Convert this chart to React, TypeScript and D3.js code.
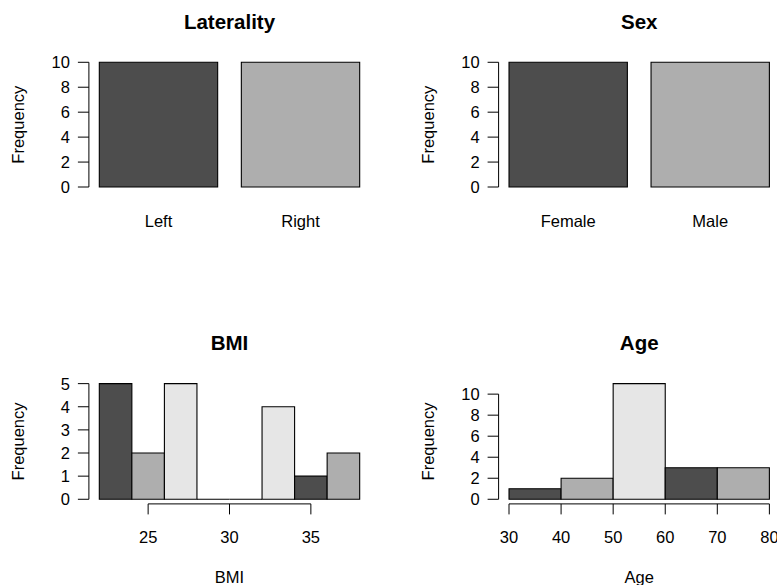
import React from "react";
import * as d3 from "d3";

const width = 777;
const height = 585;
const font = "'Liberation Sans', Arial, Helvetica, sans-serif";

// data
const lateralityCats = ["Left", "Right"];
const lateralityCounts = [10, 10];
const sexCats = ["Female", "Male"];
const sexCounts = [10, 10];
const bmiBreaks = [22, 24, 26, 28, 30, 32, 34, 36, 38];
const bmiCounts = [5, 2, 5, 0, 0, 4, 1, 2];
const ageBreaks = [30, 40, 50, 60, 70, 80];
const ageCounts = [1, 2, 11, 3, 3];
const barTicksY = [0, 2, 4, 6, 8, 10];
const bmiTicksY = [0, 1, 2, 3, 4, 5];
const ageTicksY = [0, 2, 4, 6, 8, 10];
const bmiTicksX = [25, 30, 35];
const ageTicksX = [30, 40, 50, 60, 70, 80];

const grays = ["#4D4D4D", "#AEAEAE", "#E6E6E6"];

// plot regions (like R's plt)
const colX = [88.9, 498.6];
const regionW = 281.2;
const topRow = [192, 57.3];
const bottomRow = [503.9, 379];

// extend a domain by 4%, like R's xaxs = "r"
const ext = (lo: number, hi: number) => {
  const d = (hi - lo) * 0.04;
  return [lo - d, hi + d];
};

function barPath(x0: number, x1: number, y0: number, y1: number) {
  return `M${x0},${y0}H${x1}V${y1}H${x0}Z`;
}

function YAxis({ x, y, ticks }: { x: number; y: d3.ScaleLinear<number, number>; ticks: number[] }) {
  const y0 = y(ticks[0]);
  const y1 = y(ticks[ticks.length - 1]);
  return (
    <g>
      <line x1={x} x2={x} y1={y0} y2={y1} stroke="#000" strokeWidth={1} />
      {ticks.map(t => (
        <g key={t}>
          <line x1={x - 11} x2={x} y1={y(t)} y2={y(t)} stroke="#000" strokeWidth={1} />
          <text x={x - 19} y={y(t)} dy="0.36em" textAnchor="end" fontSize={16.5} fontFamily={font}>{t}</text>
        </g>
      ))}
    </g>
  );
}

function XAxis({ y, x, ticks }: { y: number; x: d3.ScaleLinear<number, number>; ticks: number[] }) {
  return (
    <g>
      <line x1={x(ticks[0])} x2={x(ticks[ticks.length - 1])} y1={y} y2={y} stroke="#000" strokeWidth={1} />
      {ticks.map(t => (
        <g key={t}>
          <line x1={x(t)} x2={x(t)} y1={y} y2={y + 10.5} stroke="#000" strokeWidth={1} />
          <text x={x(t)} y={y + 38.7} textAnchor="middle" fontSize={16.5} fontFamily={font}>{t}</text>
        </g>
      ))}
    </g>
  );
}

function Titles({ x0, row, title, xlab }: { x0: number; row: number[]; title: string; xlab?: string }) {
  const cx = x0 + regionW / 2;
  const cy = (row[0] + row[1]) / 2;
  const lx = x0 - 64.5;
  return (
    <g fontFamily={font}>
      <text x={cx} y={row[1] - 28.8} textAnchor="middle" fontSize={20.5} fontWeight="bold">{title}</text>
      <text transform={`translate(${lx},${cy}) rotate(-90)`} textAnchor="middle" fontSize={16.5}>Frequency</text>
      {xlab && <text x={cx} y={row[0] + 79.4} textAnchor="middle" fontSize={16.5}>{xlab}</text>}
    </g>
  );
}

function BarPanel({ col, title, cats, counts }: { col: number; title: string; cats: string[]; counts: number[] }) {
  const x0 = colX[col];
  // barplot: width 1, space 0.2
  const lefts = cats.map((_, i) => 0.2 + i * 1.2);
  const x = d3.scaleLinear().domain(ext(0.2, lefts[lefts.length - 1] + 1)).range([x0, x0 + regionW]);
  const y = d3.scaleLinear().domain(ext(0, d3.max(counts) as number)).range(topRow);
  return (
    <g>
      {counts.map((c, i) => (
        <path key={i} d={barPath(x(lefts[i]), x(lefts[i] + 1), y(0), y(c))}
          fill={grays[i % grays.length]} stroke="#000" strokeWidth={1.1} />
      ))}
      {cats.map((c, i) => (
        <text key={c} x={x(lefts[i] + 0.5)} y={topRow[0] + 34.7} textAnchor="middle" fontSize={16.5} fontFamily={font}>{c}</text>
      ))}
      <YAxis x={x0} y={y} ticks={barTicksY} />
      <Titles x0={x0} row={topRow} title={title} />
    </g>
  );
}

function HistPanel({ col, title, breaks, counts, xTicks, yTicks }:
  { col: number; title: string; breaks: number[]; counts: number[]; xTicks: number[]; yTicks: number[] }) {
  const x0 = colX[col];
  const x = d3.scaleLinear().domain(ext(breaks[0], breaks[breaks.length - 1])).range([x0, x0 + regionW]);
  const y = d3.scaleLinear().domain(ext(0, d3.max(counts) as number)).range(bottomRow);
  return (
    <g>
      {counts.map((c, i) => (
        <path key={i} d={barPath(x(breaks[i]), x(breaks[i + 1]), y(0), y(c))}
          fill={grays[i % grays.length]} stroke="#000" strokeWidth={1.1} />
      ))}
      <XAxis y={bottomRow[0]} x={x} ticks={xTicks} />
      <YAxis x={x0} y={y} ticks={yTicks} />
      <Titles x0={x0} row={bottomRow} title={title} xlab={title} />
    </g>
  );
}

export default function App() {
  return (
    <svg width={width} height={height} style={{ position: "absolute", left: 0, top: 0, background: "#fff" }}>
      <rect width={width} height={height} fill="#fff" />
      <BarPanel col={0} title="Laterality" cats={lateralityCats} counts={lateralityCounts} />
      <BarPanel col={1} title="Sex" cats={sexCats} counts={sexCounts} />
      <HistPanel col={0} title="BMI" breaks={bmiBreaks} counts={bmiCounts} xTicks={bmiTicksX} yTicks={bmiTicksY} />
      <HistPanel col={1} title="Age" breaks={ageBreaks} counts={ageCounts} xTicks={ageTicksX} yTicks={ageTicksY} />
    </svg>
  );
}
